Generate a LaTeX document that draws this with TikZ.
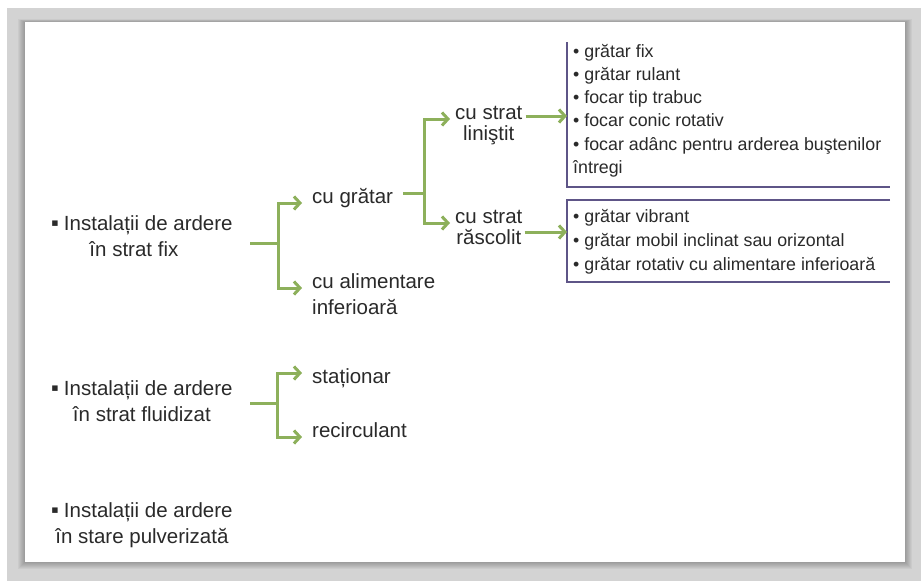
\documentclass[tikz,border=0pt]{standalone}
\usepackage{fontspec}
\setmainfont{Liberation Sans}
\usetikzlibrary{arrows.meta,calc}
\definecolor{bg}{HTML}{D3D3D3}
\definecolor{grn}{HTML}{8DB05B}
\definecolor{pur}{HTML}{5E5587}
\definecolor{txtc}{HTML}{2A2A2A}
\newcommand{\mylines}[2]{\begin{tabular}[t]{@{}#1@{}}#2\end{tabular}}
\newcommand{\sqbul}{{\fontsize{22}{22}\selectfont ▪}\hspace{5pt}}
\begin{document}
\begin{tikzpicture}[x=1pt,y=-1pt,
  maintxt/.style={font=\fontsize{20.5}{26}\selectfont, text=txtc, inner sep=0pt, anchor=base west},
  midtxt/.style={font=\fontsize{20.5}{21}\selectfont, text=txtc, inner sep=0pt, anchor=base west},
  boxtxt/.style={font=\fontsize{17.8}{#1}\selectfont, text=txtc, inner sep=0pt, anchor=base west},
  grnline/.style={draw=grn, line width=3pt},
  grnarr/.style={draw=grn, line width=3pt, -{Straight Barb[length=6pt,width=13pt]}},
  boxline/.style={draw=pur, line width=2pt}]
\useasboundingbox (0,0) rectangle (921,581);
\fill[white] (0,0) rectangle (921,581);
\fill[bg] (7,8) rectangle (921,581);
\foreach \k in {1,...,7} {
  \fill[black,opacity=0.04] (25-\k,22-0.4*\k) rectangle (905+\k,562+\k);
}
\fill[white] (25,22) rectangle (905,562);

% level 1
\node[maintxt] (A1) at (51,230) {\mylines{c}{\sqbul Instalații de ardere\\în strat fix\hspace*{16pt}}};
\node[maintxt] (A2) at (51,395) {\mylines{c}{\sqbul Instalații de ardere\\în strat fluidizat}};
\node[maintxt] (A3) at (51,517) {\mylines{c}{\sqbul Instalații de ardere\\în stare pulverizată}};

% level 2
\node[maintxt] (B1) at (312,203) {cu grătar};
\node[maintxt] (B2) at (312,288) {\mylines{l}{cu alimentare\\inferioară}};
\node[maintxt] (E1) at (312,383) {staționar};
\node[maintxt] (E2) at (312,437) {recirculant};

% level 3
\node[midtxt] (C1) at (455,119) {\mylines{c}{cu strat\\liniştit}};
\node[midtxt] (C2) at (455,223) {\mylines{c}{cu strat\\răscolit}};

% boxes
\node[boxtxt=23.3] (D1) at (573,57) {\mylines{l}{• grătar fix\\• grătar rulant\\• focar tip trabuc\\• focar conic rotativ\\• focar adânc pentru arderea buştenilor\\întregi}};
\node[boxtxt=24] (D2) at (573,222) {\mylines{l}{• grătar vibrant\\• grătar mobil inclinat sau orizontal\\• grătar rotativ cu alimentare inferioară}};

\coordinate (D1a) at (567,42);
\coordinate (D1b) at (567,187);
\coordinate (D1c) at (890,187);
\draw[boxline] (D1a) -- (D1b) -- (D1c);
\coordinate (D2a) at (890,200);
\coordinate (D2b) at (567,200);
\coordinate (D2c) at (567,282);
\coordinate (D2d) at (890,282);
\draw[boxline] (D2a) -- (D2b) -- (D2c) -- (D2d);

% bracket 1
\coordinate (s1) at (250,243);
\coordinate (j1) at (278,243);
\draw[grnline] (s1) -- (j1);
\draw[grnarr] (j1) |- ([xshift=-10pt]B1.base west);
\draw[grnarr] (j1) |- ([xshift=-10pt]B2.base west);

% bracket 2
\coordinate (s2) at (403,193);
\coordinate (j2) at (424,193);
\draw[grnline] (s2) -- (j2);
\draw[grnarr] (j2) |- ([xshift=-5pt]C1.base west);
\draw[grnarr] (j2) |- ([xshift=-5pt]C2.base west);

% bracket 3
\coordinate (s3) at (250,403);
\coordinate (j3) at (277,403);
\draw[grnline] (s3) -- (j3);
\draw[grnarr] (j3) |- ([xshift=-10pt,yshift=10pt]E1.base west);
\draw[grnarr] (j3) |- ([xshift=-10pt]E2.base west);

% to boxes
\coordinate (c1o) at ([xshift=3pt,yshift=3pt]C1.base east);
\draw[grnarr] (c1o) -- (c1o -| D1b);
\coordinate (c2o) at ([xshift=2pt,yshift=-9pt]C2.base east);
\draw[grnarr] (c2o) -- (c2o -| D2b);
\end{tikzpicture}
\end{document}
